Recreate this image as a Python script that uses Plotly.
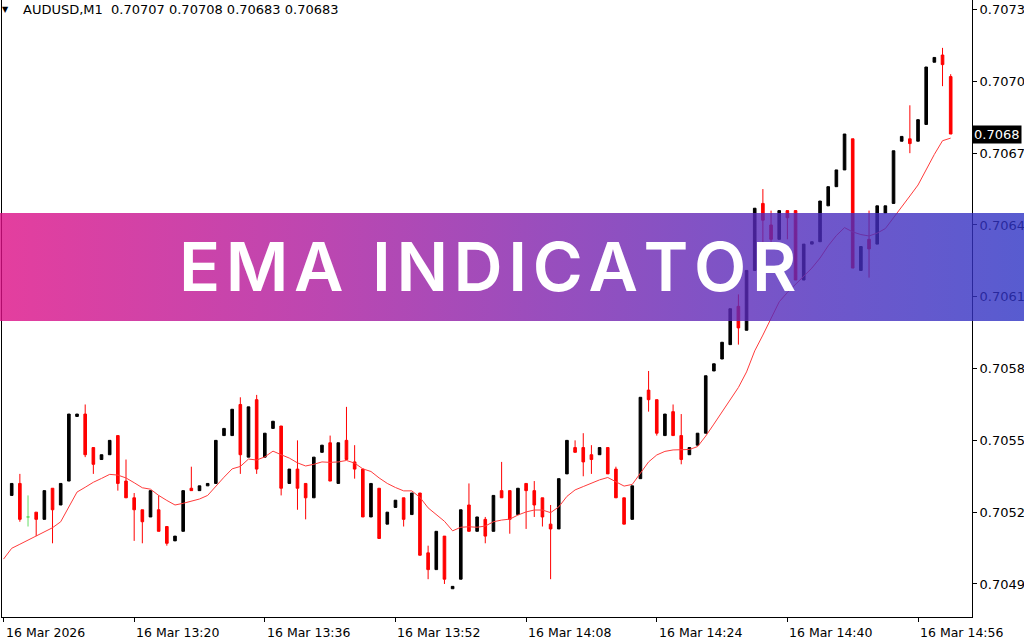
import base64
import pandas as pd
import plotly.graph_objects as go

# ---------------- data ----------------
bar_times = pd.date_range("2026-03-16 13:05", periods=116, freq="min")
ema_times = pd.date_range("2026-03-16 13:04", periods=117, freq="min")

open_ = [0.70532, 0.70537, 0.70523, 0.70525, 0.70522, 0.70535, 0.70528, 0.70538, 0.70565, 0.70566,
         0.70552, 0.70547, 0.70549, 0.70557, 0.70538, 0.70531, 0.70526, 0.70523, 0.70526, 0.70519,
         0.70513, 0.70517, 0.70535, 0.70534, 0.70536, 0.70537, 0.70557, 0.70557, 0.70570, 0.70548,
         0.70572, 0.70548, 0.70560, 0.70561, 0.70537, 0.70543, 0.70537, 0.70531, 0.70550, 0.70554,
         0.70537, 0.70555, 0.70546, 0.70543, 0.70523, 0.70535, 0.70520, 0.70527, 0.70531, 0.70524,
         0.70533, 0.70508, 0.70501, 0.70515, 0.70493, 0.70497, 0.70528, 0.70517, 0.70522, 0.70517,
         0.70534, 0.70534, 0.70524, 0.70537, 0.70534, 0.70531, 0.70520, 0.70518, 0.70541, 0.70552,
         0.70552, 0.70549, 0.70549, 0.70552, 0.70543, 0.70531, 0.70522, 0.70539, 0.70576, 0.70572,
         0.70557, 0.70567, 0.70557, 0.70549, 0.70553, 0.70558, 0.70584, 0.70589, 0.70595, 0.70611,
         0.70601, 0.70626, 0.70654, 0.70645, 0.70639, 0.70651, 0.70651, 0.70622, 0.70637, 0.70638,
         0.70653, 0.70661, 0.70668, 0.70681, 0.70626, 0.70639, 0.70637, 0.70650, 0.70654, 0.70680,
         0.70681, 0.70680, 0.70687, 0.70713, 0.70716, 0.70707]

high = [0.70537, 0.70541, 0.70532, 0.70525, 0.70534, 0.70535, 0.70537, 0.70566, 0.70566, 0.70570,
        0.70552, 0.70549, 0.70555, 0.70557, 0.70547, 0.70533, 0.70526, 0.70534, 0.70532, 0.70519,
        0.70515, 0.70534, 0.70544, 0.70536, 0.70537, 0.70555, 0.70560, 0.70568, 0.70573, 0.70569,
        0.70574, 0.70558, 0.70563, 0.70561, 0.70543, 0.70555, 0.70537, 0.70548, 0.70553, 0.70557,
        0.70554, 0.70569, 0.70553, 0.70543, 0.70537, 0.70535, 0.70525, 0.70530, 0.70531, 0.70533,
        0.70533, 0.70511, 0.70517, 0.70515, 0.70494, 0.70526, 0.70537, 0.70523, 0.70523, 0.70532,
        0.70546, 0.70534, 0.70535, 0.70537, 0.70538, 0.70531, 0.70528, 0.70539, 0.70555, 0.70555,
        0.70558, 0.70553, 0.70552, 0.70552, 0.70544, 0.70531, 0.70536, 0.70573, 0.70584, 0.70572,
        0.70566, 0.70570, 0.70566, 0.70552, 0.70558, 0.70582, 0.70587, 0.70596, 0.70610, 0.70616,
        0.70626, 0.70652, 0.70660, 0.70651, 0.70651, 0.70651, 0.70651, 0.70637, 0.70638, 0.70655,
        0.70661, 0.70668, 0.70683, 0.70681, 0.70636, 0.70651, 0.70653, 0.70653, 0.70676, 0.70682,
        0.70695, 0.70689, 0.70711, 0.70715, 0.70719, 0.70708]

low = [0.70532, 0.70521, 0.70519, 0.70515, 0.70522, 0.70512, 0.70528, 0.70538, 0.70565, 0.70548,
       0.70541, 0.70547, 0.70549, 0.70534, 0.70531, 0.70513, 0.70512, 0.70523, 0.70517, 0.70511,
       0.70513, 0.70517, 0.70534, 0.70534, 0.70536, 0.70537, 0.70557, 0.70557, 0.70541, 0.70548,
       0.70541, 0.70548, 0.70560, 0.70532, 0.70537, 0.70526, 0.70522, 0.70531, 0.70550, 0.70538,
       0.70537, 0.70547, 0.70539, 0.70523, 0.70523, 0.70514, 0.70520, 0.70527, 0.70519, 0.70524,
       0.70507, 0.70497, 0.70501, 0.70495, 0.70493, 0.70497, 0.70517, 0.70517, 0.70512, 0.70517,
       0.70531, 0.70516, 0.70524, 0.70518, 0.70523, 0.70519, 0.70497, 0.70518, 0.70541, 0.70550,
       0.70540, 0.70541, 0.70549, 0.70541, 0.70531, 0.70520, 0.70522, 0.70539, 0.70567, 0.70557,
       0.70557, 0.70557, 0.70545, 0.70549, 0.70553, 0.70558, 0.70584, 0.70589, 0.70595, 0.70595,
       0.70601, 0.70626, 0.70632, 0.70635, 0.70639, 0.70639, 0.70622, 0.70622, 0.70637, 0.70638,
       0.70653, 0.70661, 0.70668, 0.70627, 0.70626, 0.70623, 0.70637, 0.70650, 0.70654, 0.70680,
       0.70675, 0.70680, 0.70687, 0.70713, 0.70703, 0.70683]

close = [0.70537, 0.70522, 0.70523, 0.70522, 0.70534, 0.70526, 0.70537, 0.70566, 0.70566, 0.70549,
         0.70545, 0.70549, 0.70555, 0.70537, 0.70531, 0.70526, 0.70521, 0.70534, 0.70517, 0.70512,
         0.70515, 0.70534, 0.70534, 0.70536, 0.70537, 0.70555, 0.70560, 0.70568, 0.70549, 0.70569,
         0.70543, 0.70558, 0.70563, 0.70535, 0.70543, 0.70535, 0.70531, 0.70548, 0.70553, 0.70538,
         0.70554, 0.70547, 0.70543, 0.70523, 0.70537, 0.70514, 0.70525, 0.70530, 0.70522, 0.70533,
         0.70507, 0.70501, 0.70517, 0.70497, 0.70494, 0.70526, 0.70517, 0.70523, 0.70515, 0.70532,
         0.70531, 0.70522, 0.70535, 0.70534, 0.70528, 0.70523, 0.70518, 0.70539, 0.70555, 0.70550,
         0.70546, 0.70547, 0.70552, 0.70541, 0.70531, 0.70520, 0.70536, 0.70573, 0.70572, 0.70558,
         0.70566, 0.70557, 0.70547, 0.70552, 0.70558, 0.70582, 0.70587, 0.70596, 0.70610, 0.70602,
         0.70626, 0.70652, 0.70647, 0.70639, 0.70651, 0.70648, 0.70622, 0.70637, 0.70638, 0.70655,
         0.70661, 0.70668, 0.70683, 0.70627, 0.70636, 0.70635, 0.70653, 0.70653, 0.70676, 0.70682,
         0.70679, 0.70689, 0.70711, 0.70715, 0.70712, 0.70683]

ema = [0.705054, 0.705099, 0.705116, 0.705133, 0.705150, 0.705167, 0.705185, 0.705210, 0.705271, 0.705334,
       0.705354, 0.705375, 0.705391, 0.705408, 0.705405, 0.705393, 0.705373, 0.705352, 0.705346, 0.705320,
       0.705299, 0.705280, 0.705287, 0.705296, 0.705305, 0.705320, 0.705359, 0.705396, 0.705431, 0.705441,
       0.705472, 0.705468, 0.705481, 0.705505, 0.705490, 0.705476, 0.705456, 0.705443, 0.705450, 0.705460,
       0.705458, 0.705460, 0.705466, 0.705455, 0.705431, 0.705420, 0.705393, 0.705370, 0.705353, 0.705339,
       0.705339, 0.705312, 0.705268, 0.705240, 0.705212, 0.705172, 0.705187, 0.705189, 0.705187, 0.705192,
       0.705210, 0.705217, 0.705221, 0.705238, 0.705251, 0.705259, 0.705259, 0.705248, 0.705272, 0.705316,
       0.705343, 0.705357, 0.705372, 0.705385, 0.705395, 0.705378, 0.705359, 0.705366, 0.705414, 0.705460,
       0.705489, 0.705504, 0.705510, 0.705510, 0.705512, 0.705524, 0.705568, 0.705618, 0.705669, 0.705717,
       0.705771, 0.705836, 0.705924, 0.705990, 0.706059, 0.706129, 0.706168, 0.706201, 0.706235, 0.706270,
       0.706312, 0.706363, 0.706406, 0.706439, 0.706421, 0.706410, 0.706404, 0.706416, 0.706435, 0.706482,
       0.706527, 0.706571, 0.706617, 0.706681, 0.706745, 0.706802, 0.706813]

y_tick_vals = [0.70495, 0.70525, 0.70555, 0.70585, 0.70615, 0.70645, 0.70675, 0.70705, 0.70735]
y_tick_text = ["0.7049", "0.7052", "0.7055", "0.7058", "0.7061", "0.7064", "0.7067", "0.7070", "0.7073"]

x_tick_times = ["2026-03-16 13:04", "2026-03-16 13:20", "2026-03-16 13:36", "2026-03-16 13:52",
                "2026-03-16 14:08", "2026-03-16 14:24", "2026-03-16 14:40", "2026-03-16 14:56"]
x_tick_text = ["16 Mar 2026", "16 Mar 13:20", "16 Mar 13:36", "16 Mar 13:52",
               "16 Mar 14:08", "16 Mar 14:24", "16 Mar 14:40", "16 Mar 14:56"]

symbol_text = "AUDUSD,M1  0.70707 0.70708 0.70683 0.70683"
last_price_text = "0.7068"
last_price = 0.70683
banner_text = "EMA INDICATOR"

# ---------------- figure ----------------
W, H = 1024, 640
ML, MR, MT, MB = 2, 52, 0, 23
PW, PH = W - ML - MR, H - MT - MB

reg = [i for i in range(len(open_)) if open_[i] != close[i]]
doji = [i for i in range(len(open_)) if open_[i] == close[i]]

fig = go.Figure()
fig.add_trace(go.Candlestick(
    x=[bar_times[i] for i in reg],
    open=[open_[i] for i in reg], high=[high[i] for i in reg],
    low=[low[i] for i in reg], close=[close[i] for i in reg],
    increasing=dict(line=dict(color="black", width=1), fillcolor="black"),
    decreasing=dict(line=dict(color="#ff0000", width=1), fillcolor="#ff0000"),
    hoverinfo="skip", showlegend=False,
))
fig.add_trace(go.Candlestick(
    x=[bar_times[i] for i in doji],
    open=[open_[i] for i in doji], high=[high[i] for i in doji],
    low=[low[i] for i in doji], close=[close[i] for i in doji],
    increasing=dict(line=dict(color="#66dd66", width=1), fillcolor="#66dd66"),
    decreasing=dict(line=dict(color="#66dd66", width=1), fillcolor="#66dd66"),
    hoverinfo="skip", showlegend=False,
))
fig.add_trace(go.Scatter(
    x=ema_times, y=ema, mode="lines",
    line=dict(color="#ff3b3b", width=1), hoverinfo="skip", showlegend=False,
))

# gradient banner (semi-transparent)
stops = [(0, "rgb(221,14,134)"), (30, "rgb(174,24,156)"), (55, "rgb(124,34,174)"),
         (80, "rgb(76,44,189)"), (100, "rgb(46,51,196)")]
stop_xml = "".join(f'<stop offset="{o}%" stop-color="{c}" stop-opacity="0.8"/>' for o, c in stops)
svg = ('<svg xmlns="http://www.w3.org/2000/svg" width="1024" height="108" viewBox="0 0 1024 108" '
       'preserveAspectRatio="none"><defs><linearGradient id="g" x1="0" y1="0" x2="1" y2="0">'
       + stop_xml + '</linearGradient></defs><rect x="0" y="0" width="1024" height="108" fill="url(#g)"/></svg>')
src = "data:image/svg+xml;base64," + base64.b64encode(svg.encode()).decode()

band_top, band_bot = 213, 321
fig.add_layout_image(dict(
    source=src, xref="paper", yref="paper",
    x=-ML / PW, y=(PH - band_top) / PH, sizex=W / PW, sizey=(band_bot - band_top) / PH,
    xanchor="left", yanchor="top", sizing="stretch", layer="above", opacity=1,
))

# letter-spaced banner title (one hair space between letters)
spaced_title = "\u200A".join(list(banner_text))

ann = []
ann.append(dict(text=spaced_title, xref="paper", yref="paper", x=(487 - ML) / PW, y=(PH - 266) / PH,
                xanchor="center", yanchor="middle", showarrow=False,
                font=dict(family="Inter", size=68, color="white", weight=600)))
ann.append(dict(text="\u25BC", xref="paper", yref="paper", x=0, y=1, xshift=3, yshift=-9,
                xanchor="center", yanchor="middle", showarrow=False,
                font=dict(family="DejaVu Sans", size=8, color="black")))
ann.append(dict(text=symbol_text, xref="paper", yref="paper", x=0, y=1, xshift=19, yshift=-9,
                xanchor="left", yanchor="middle", showarrow=False,
                font=dict(family="DejaVu Sans", size=13, color="black")))
for t, lab in zip(x_tick_times, x_tick_text):
    ann.append(dict(text=lab, xref="x", yref="paper", x=t, y=0, yshift=-6,
                    xanchor="left", yanchor="top", showarrow=False,
                    font=dict(family="DejaVu Sans", size=12.5, color="black")))
ann.append(dict(text=last_price_text, xref="paper", yref="y", x=1, y=last_price, xshift=0,
                xanchor="left", yanchor="middle", showarrow=False, bgcolor="black",
                borderpad=1, font=dict(family="DejaVu Sans", size=13, color="white")))

fig.update_layout(
    width=W, height=H,
    margin=dict(l=ML, r=MR, t=MT, b=MB, autoexpand=False),
    paper_bgcolor="white", plot_bgcolor="white",
    showlegend=False, boxgap=0.68, boxgroupgap=0,
    annotations=ann,
    xaxis=dict(type="date", range=["2026-03-16 13:03:48.7", "2026-03-16 15:02:36.6"],
               showgrid=False, zeroline=False, showline=True, linecolor="black", linewidth=1,
               ticks="outside", ticklen=4, tickcolor="black", tickvals=x_tick_times,
               showticklabels=False, rangeslider=dict(visible=False), fixedrange=True),
    yaxis=dict(side="right", range=[0.704812, 0.707390], showgrid=False, zeroline=False,
               showline=True, mirror=True, linecolor="black", linewidth=1,
               ticks="outside", ticklen=4, tickcolor="black",
               tickvals=y_tick_vals, ticktext=y_tick_text,
               tickfont=dict(family="DejaVu Sans", size=13, color="black"), fixedrange=True),
)

fig.write_html("out.html", config={"displayModeBar": False})

# remove the browser's default page margin so the figure sits at (0, 0)
with open("out.html", "r", encoding="utf-8") as fh:
    page = fh.read()
page = page.replace("<head>", "<head><style>html,body{margin:0;padding:0;overflow:hidden;}</style>", 1)
with open("out.html", "w", encoding="utf-8") as fh:
    fh.write(page)
